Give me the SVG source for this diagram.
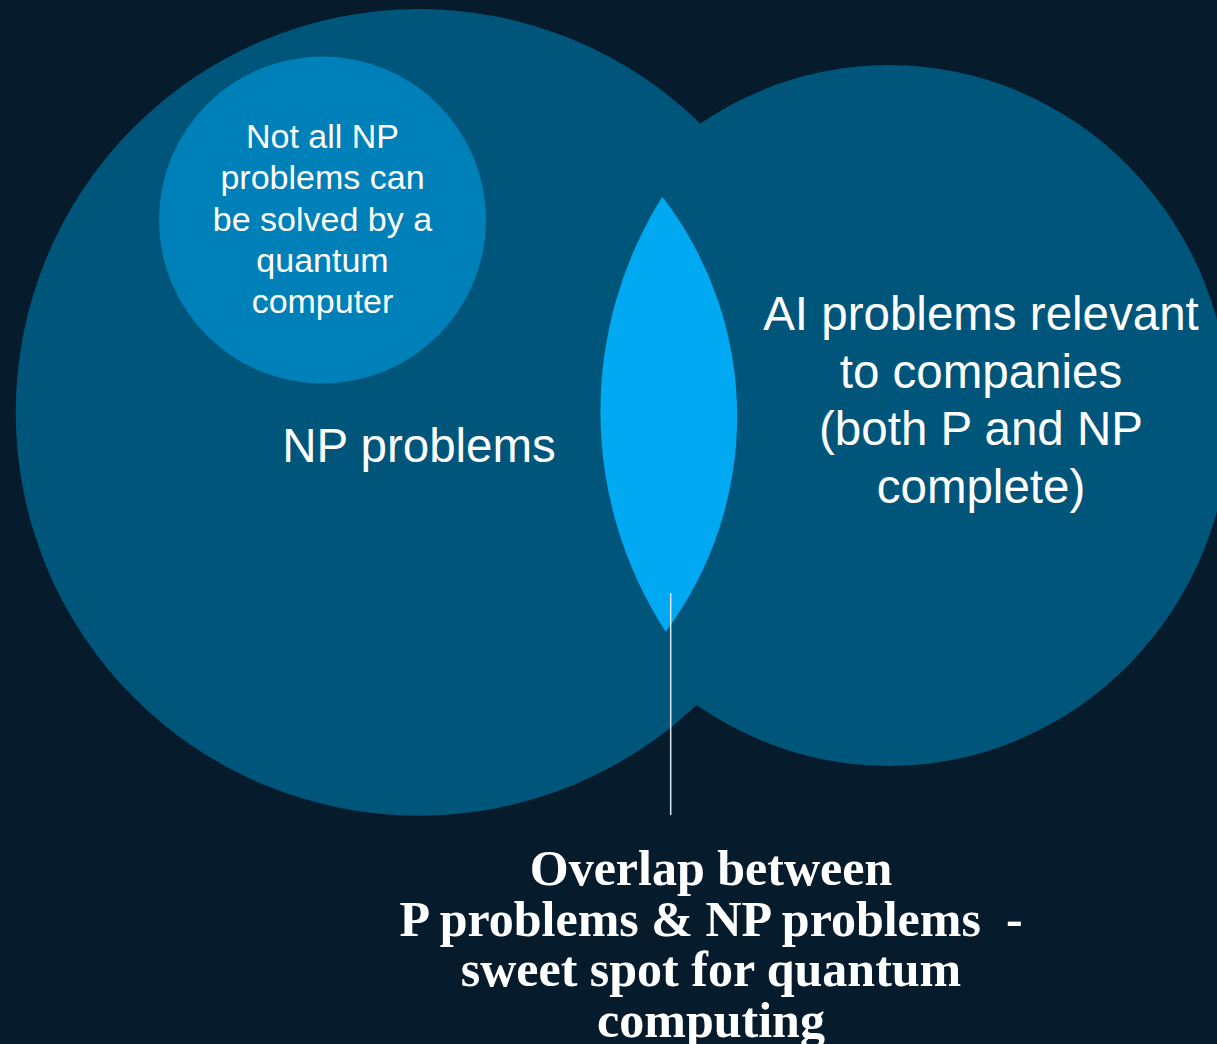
<svg xmlns="http://www.w3.org/2000/svg" width="1217" height="1044" viewBox="0 0 1217 1044">
  <style>
    .set { fill: #00567a; }
    .sub { fill: #0080b8; }
    .lens { fill: #00a9f1; }
    .sans { font-family: "Liberation Sans", Arial, sans-serif; fill: #ffffff; text-anchor: middle; }
    .small { font-size: 34px; }
    .big { font-size: 47.5px; }
    .caption { font-family: "Liberation Serif", "Times New Roman", serif; font-weight: bold; font-size: 50px; fill: #ffffff; text-anchor: middle; }
  </style>

  <rect width="1217" height="1044" fill="#061c2d"/>

  <!-- set shapes -->
  <g id="np-set">
    <circle class="set" cx="419" cy="412.4" r="403.3"/>
  </g>
  <g id="ai-set">
    <ellipse class="set" cx="889" cy="415.5" rx="341" ry="350.5"/>
  </g>

  <!-- quantum subset -->
  <g id="quantum-subset">
    <circle class="sub" cx="322.5" cy="220" r="163.5"/>
    <text class="sans small" x="322.5" y="148">Not all NP</text>
    <text class="sans small" x="322.5" y="189.3">problems can</text>
    <text class="sans small" x="322.5" y="230.6">be solved by a</text>
    <text class="sans small" x="322.5" y="271.9">quantum</text>
    <text class="sans small" x="322.5" y="313.2">computer</text>
  </g>

  <!-- overlap lens -->
  <g id="overlap">
    <path class="lens" d="M662.3,196.7 A404,404 0 0,0 665.7,631.7 A360,360 0 0,0 662.3,196.7 Z"/>
  </g>

  <!-- set labels, drawn above both sets -->
  <g id="np-label">
    <text class="sans big" x="419" y="462">NP problems</text>
  </g>
  <g id="ai-label">
    <text class="sans big" x="981" y="330">AI problems relevant</text>
    <text class="sans big" x="981" y="387.5">to companies</text>
    <text class="sans big" x="981" y="445">(both P and NP</text>
    <text class="sans big" x="981" y="502.5">complete)</text>
  </g>

  <!-- pointer from overlap to caption -->
  <g id="connectors">
    <line x1="670.7" y1="593" x2="670.7" y2="815" stroke="#dfe7ec" stroke-width="1.5"/>
  </g>

  <g id="caption">
    <text class="caption" x="711" y="885">Overlap between</text>
    <text class="caption" x="711" y="935.5">P problems &amp; NP problems&#160; -</text>
    <text class="caption" x="711" y="986">sweet spot for quantum</text>
    <text class="caption" x="711" y="1036.5">computing</text>
  </g>
</svg>
